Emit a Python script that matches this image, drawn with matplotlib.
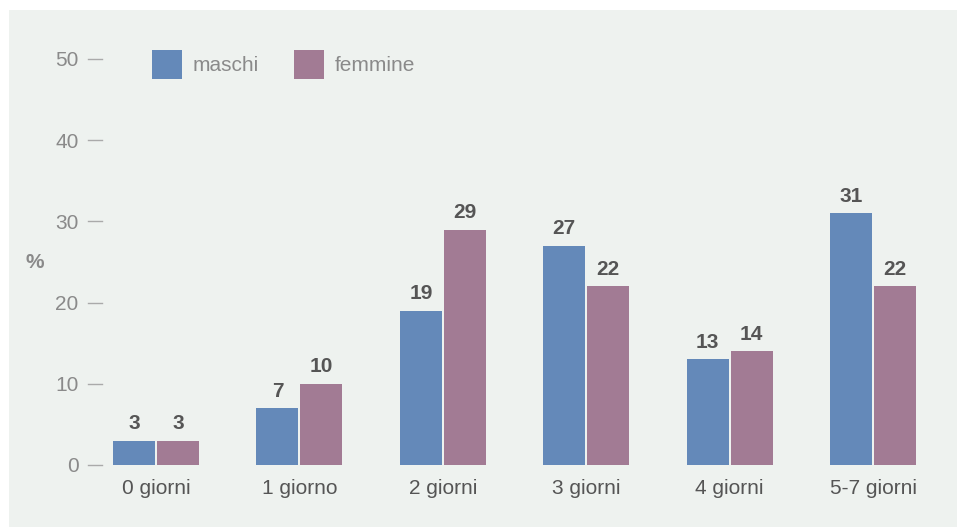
import matplotlib
matplotlib.use("Agg")
import matplotlib.pyplot as plt
from matplotlib.patches import Rectangle
import numpy as np

plt.rcParams["font.family"] = ["Liberation Sans", "DejaVu Sans"]

categorie = ["0 giorni", "1 giorno", "2 giorni", "3 giorni", "4 giorni", "5-7 giorni"]
maschi = [3, 7, 19, 27, 13, 31]
femmine = [3, 10, 29, 22, 14, 22]
serie = ["maschi", "femmine"]
yticks = [0, 10, 20, 30, 40, 50]

BLU = "#6489b9"
MALVA = "#a27b94"
SFONDO = "#eef2ef"
GRIGIO = "#8a8a8a"
SCURO = "#555555"

W, H = 957, 527
fig = plt.figure(figsize=(W / 100, H / 100), dpi=100, facecolor="white")

# pannello di sfondo (sotto gli assi)
fig.patches.append(Rectangle((9 / W, 0), 1, 1 - 10 / H, transform=fig.transFigure,
                             facecolor=SFONDO, edgecolor="none", zorder=-10))

# area dati: y=0 a 465 px, y=50 a 59 px
x0_px, x1_px = 105, 950
y0_px, y50_px = 465, 59
ax = fig.add_axes([x0_px / W, 1 - y0_px / H, (x1_px - x0_px) / W, (y0_px - y50_px) / H])
ax.set_facecolor("none")
ax.set_ylim(0, 50)
passo = 143.4
xl, xr = (x0_px - 156) / passo, (x1_px - 156) / passo

x = np.arange(len(categorie))
larg = 0.293
off = 0.153
b1 = ax.bar(x - off, maschi, larg, color=BLU, label=serie[0], clip_on=False)
b2 = ax.bar(x + off, femmine, larg, color=MALVA, label=serie[1], clip_on=False)

for barre, valori in ((b1, maschi), (b2, femmine)):
    for b, v in zip(barre, valori):
        ax.annotate(str(v), (b.get_x() + b.get_width() / 2, v),
                    xytext=(0, 5.5), textcoords="offset points",
                    ha="center", va="bottom", fontsize=15, fontweight="bold",
                    color=SCURO)

for s in ax.spines.values():
    s.set_visible(False)

ax.set_xticks(x)
ax.set_xticklabels(categorie, fontsize=15, color=SCURO)
ax.tick_params(axis="x", length=0, pad=10)

ax.set_yticks(yticks)
ax.set_yticklabels([str(t) for t in yticks], fontsize=15, color=GRIGIO)
ax.tick_params(axis="y", length=0, pad=19)
# trattini dei tick a sinistra delle barre
for t in yticks:
    ax.plot([xl - 17 / passo, xl - 3 / passo], [t, t], color="#aaaaaa",
            lw=1, clip_on=False)
ax.set_xlim(xl, xr)

fig.text(35 / W, 1 - 263 / H, "%", ha="center", va="center", fontsize=15,
         fontweight="bold", color=GRIGIO)

fig.legend(handles=[b1, b2], labels=serie, loc="upper left",
           bbox_to_anchor=(152 / W, 1 - 50 / H), bbox_transform=fig.transFigure,
           ncol=2, frameon=False, fontsize=15, borderpad=0, borderaxespad=0,
           handlelength=1.45, handleheight=1.8, handletextpad=0.5,
           columnspacing=1.7, labelcolor=GRIGIO)

fig.savefig("out.png", dpi=100, facecolor="white")
